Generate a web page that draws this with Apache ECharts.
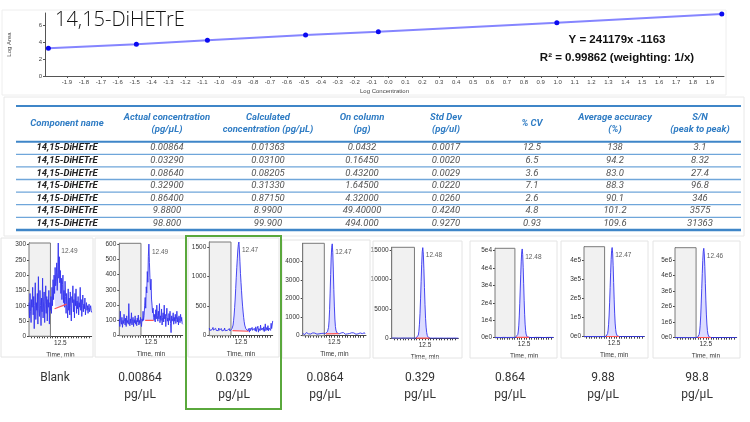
<!DOCTYPE html>
<html><head><meta charset="utf-8">
<script src="https://cdn.jsdelivr.net/npm/echarts@6/dist/echarts.min.js"></script>
<style>html,body{margin:0;padding:0;background:#fff}#c{width:750px;height:422px}</style>
</head><body><div id="c"></div>
<script>
// ---------- calibration curve ----------
const logConc = [-2.01, -1.49, -1.07, -0.49, -0.06, 0.995, 1.97];
const logArea = [3.30, 3.77, 4.25, 4.88, 5.27, 6.35, 7.38];
const xTickLabels = [-1.9,-1.8,-1.7,-1.6,-1.5,-1.4,-1.3,-1.2,-1.1,-1.0,-0.9,-0.8,-0.7,-0.6,-0.5,-0.4,-0.3,-0.2,-0.1,0.0,
  0.1,0.2,0.3,0.4,0.5,0.6,0.7,0.8,0.9,1.0,1.1,1.2,1.3,1.4,1.5,1.6,1.7,1.8,1.9];
const compoundTitle = '14,15-DiHETrE';
const equationText = 'Y = 241179x -1163';
const r2Text = 'R\u00B2 = 0.99862 (weighting: 1/x)';

// ---------- table ----------
const tableHeader1 = ['Component name','Actual concentration','Calculated','On column','Std Dev','% CV','Average accuracy','S/N'];
const tableHeader2 = ['','(pg/\u00B5L)','concentration (pg/\u00B5L)','(pg)','(pg/ul)','','(%)','(peak to peak)'];
const componentNames = ['14,15-DiHETrE','14,15-DiHETrE','14,15-DiHETrE','14,15-DiHETrE','14,15-DiHETrE','14,15-DiHETrE','14,15-DiHETrE'];
const actualConc = ['0.00864','0.03290','0.08640','0.32900','0.86400','9.8800','98.800'];
const calcConc = ['0.01363','0.03100','0.08205','0.31330','0.87150','8.9900','99.900'];
const onColumn = ['0.0432','0.16450','0.43200','1.64500','4.32000','49.40000','494.000'];
const stdDev = ['0.0017','0.0020','0.0029','0.0220','0.0260','0.4240','0.9270'];
const cvPct = ['12.5','6.5','3.6','7.1','2.6','4.8','0.93'];
const avgAccuracy = ['138','94.2','83.0','88.3','90.1','101.2','109.6'];
const signalToNoise = ['3.1','8.32','27.4','96.8','346','3575','31363'];

// ---------- chromatograms ----------
const times = [
12.200,12.205,12.210,12.215,12.220,12.225,12.230,12.235,12.240,12.245,
12.250,12.255,12.260,12.265,12.270,12.275,12.280,12.285,12.290,12.295,
12.300,12.305,12.310,12.315,12.320,12.325,12.330,12.335,12.340,12.345,
12.350,12.355,12.360,12.365,12.370,12.375,12.380,12.385,12.390,12.395,
12.400,12.405,12.410,12.415,12.420,12.425,12.430,12.435,12.440,12.445,
12.450,12.455,12.460,12.465,12.470,12.475,12.480,12.485,12.490,12.495,
12.500,12.505,12.510,12.515,12.520,12.525,12.530,12.535,12.540,12.545,
12.550,12.555,12.560,12.565,12.570,12.575,12.580,12.585,12.590,12.595,
12.600,12.605,12.610,12.615,12.620,12.625,12.630,12.635,12.640,12.645,
12.650,12.655,12.660,12.665,12.670,12.675,12.680,12.685,12.690,12.695,
12.700,12.705,12.710,12.715,12.720,12.725,12.730,12.735,12.740,12.745,
12.750,12.755,12.760,12.765,12.770,12.775,12.780,12.785,12.790,12.795,
12.800];
const traceBlank = [
110,60,140,80,45,120,95,160,70,130,25,100,175,55,110,85,140,40,195,90,65,150,100,35,125,80,190,60,115,145,45,105,165,75,130,50,120,95,150,40,110,85,
130,75,160,100,185,120,200,140,225,165,180,240,150,210,
305,
190,260,175,215,140,190,120,170,200,110,150,95,180,130,75,140,
100,60,155,85,125,70,145,95,50,130,110,165,80,120,60,140,100,155,75,115,90,130,70,110,95,160,85,120,65,100,135,80,105,90,125,70,95,110,85,100,75,95,105,80,90,100,85,78];
const trace00864 = [
110,60,160,90,75,120,55,100,80,140,95,70,115,60,130,85,100,75,210,90,65,110,80,150,70,95,120,60,105,85,130,75,100,65,115,90,135,70,100,80,120,90,
60,110,95,160,100,130,200,250,180,320,280,420,350,520,
600,
480,380,300,370,240,200,150,180,120,100,140,90,170,110,200,130,
95,160,110,210,85,130,100,175,70,120,150,90,200,110,140,60,125,180,95,115,70,145,100,160,80,20,130,95,110,150,75,120,95,140,80,105,160,90,120,70,130,100,85,140,95,120,80,75];
const trace0329 = [
130,90,110,80,120,100,70,140,95,85,110,75,125,90,100,60,115,85,130,95,70,105,90,120,80,100,65,110,95,130,85,100,75,115,90,105,70,95,120,80,100,90,
95,120,110,180,260,350,480,620,800,980,1150,1300,1450,1540,
1585,
1450,1250,1050,900,760,620,500,400,310,240,180,150,120,105,90,110,
80,120,95,60,130,85,110,70,140,90,100,65,125,95,80,150,70,110,90,160,60,120,100,85,180,95,75,130,110,90,150,70,120,200,85,110,140,95,170,80,130,100,160,90,210,120,180,250];
const trace0864 = [
120,80,150,100,60,130,90,170,110,70,140,100,80,160,120,90,60,130,100,150,80,110,70,140,95,120,160,85,110,60,130,100,150,90,75,120,140,100,80,130,110,90,
100,120,150,130,170,220,300,450,800,1400,2300,3300,4200,4780,
4960,
4500,3600,2500,1600,900,500,300,200,150,130,110,140,100,160,120,90,
150,110,130,90,170,120,100,140,80,160,110,130,100,150,90,180,120,100,140,70,160,110,130,90,150,120,100,170,80,140,110,130,100,160,90,120,150,100,130,180,110,90,140,120,160,100,130,150];
const trace329 = [
40,20,35,25,45,30,20,40,35,25,30,45,20,35,30,40,25,30,35,20,40,30,25,45,30,35,20,40,30,25,35,30,40,20,35,30,25,40,30,35,25,30,
35,40,50,70,120,250,550,1200,2400,4200,6700,9600,12500,14700,
15400,
14300,11800,8600,5700,3400,1900,1000,500,250,130,80,60,45,40,35,30,
35,25,30,40,20,35,30,25,45,30,35,20,40,30,25,35,30,40,20,35,30,25,40,30,35,25,30,40,20,35,30,45,25,30,35,20,40,30,25,35,30,40,25,35,30,20,40,30];
const trace864 = [
150,120,180,100,160,130,140,110,170,150,120,160,100,140,180,130,150,110,170,120,140,160,100,150,130,180,120,140,110,160,150,130,170,100,140,120,160,150,110,130,170,140,
160,200,280,450,900,1900,3800,7200,12500,19800,28000,36500,44000,49300,
51000,
47800,40500,31000,21500,13500,7800,4200,2100,1000,500,300,220,180,160,150,140,
130,160,120,150,170,110,140,160,130,150,120,180,140,110,160,150,130,170,120,140,160,100,150,130,170,140,120,160,150,110,140,180,130,150,120,160,140,110,170,150,130,160,120,140,150,130,160,140];
const trace988 = [
900,700,1100,600,1000,800,850,650,1050,900,700,1000,600,850,1100,800,900,650,1050,700,850,1000,600,900,800,1100,700,850,650,1000,900,800,1050,600,850,700,1000,900,650,800,1050,850,
1000,1300,2000,3800,8000,17000,34000,65000,113000,180000,256000,333000,402000,450000,
465000,
436000,370000,283000,196000,123000,71000,38000,19000,9000,4500,2600,1800,1300,1100,950,900,
800,950,700,900,1000,650,850,950,800,900,700,1100,850,650,950,900,800,1000,700,850,950,600,900,800,1000,850,700,950,900,650,850,1100,800,900,700,950,850,650,1000,900,800,950,700,850,900,800,950,850];
const trace988b = [
10000,8000,12000,7000,11000,9000,9500,7500,11500,10000,8000,11000,7000,9500,12000,9000,10000,7500,11500,8000,9500,11000,7000,10000,9000,12000,8000,9500,7500,11000,10000,9000,11500,7000,9500,8000,11000,10000,7500,9000,11500,9500,
11000,15000,25000,48000,100000,210000,420000,800000,1400000,2230000,3170000,4120000,4970000,5560000,
5750000,
5390000,4570000,3500000,2420000,1520000,880000,470000,235000,110000,55000,30000,20000,15000,12000,10500,10000,
9000,10500,8000,10000,11500,7500,9500,10500,9000,10000,8000,12000,9500,7500,10500,10000,9000,11000,8000,9500,10500,7000,10000,9000,11000,9500,8000,10500,10000,7500,9500,12000,9000,10000,8000,10500,9500,7500,11000,10000,9000,10500,8000,9500,10000,9000,10500,9500];
const traces = [traceBlank, trace00864, trace0329, trace0864, trace329, trace864, trace988, trace988b];
const peakLabels = ['12.49','12.49','12.47','12.47','12.48','12.48','12.47','12.46'];
const sampleNames = ['Blank','0.00864','0.0329','0.0864','0.329','0.864','9.88','98.8'];
const sampleUnit = 'pg/\u00B5L';
const peakStart = [12.445,12.445,12.42,12.42,12.42,12.42,12.42,12.42];
const peakEnd   = [12.56,12.525,12.57,12.54,12.54,12.55,12.55,12.55];
const baseStart = [90,100,85,100,30,150,900,10000];
const baseEnd   = [105,100,75,110,30,150,900,10000];
const grayEnd = 12.405;
const yMax = [305,605,1585,4990,15460,51380,469400,5790000];
const yStep = [50,100,500,1000,5000,10000,100000,1000000];
const yExp = [0,0,0,0,0,4,5,6];

// ---------- layout ----------
const panelGrid = [[29,243,62.7,93.3],[119.3,243.3,63.4,92.4],[209.3,242,63.4,93.7],[302.7,243.3,63.3,92.4],
  [391.7,247.3,66.6,91],[495,248.3,58.3,89.4],[584,246.7,60.3,90],[675,247.7,61.7,90]];
const panelCard = [[1,238,92,119],[95,238,91,119],[188,238,91,119],[282,240,88,118],[373,241,89,117],[470,241,87,117],[561,241,87,117],[653,241,87,117]];
const labelX = [55,140,234,325,420,510,603,697];
const colX = [67,167,268,362,446,532,615,700];
const rowTop = 141.7, rowH = 12.6;

const chart = echarts.init(document.getElementById('c'), null, {renderer:'canvas'});

const grids = [{left:45, top:13, width:679, height:63, containLabel:false, outerBoundsMode:'none'}];
const xAxes = [{type:'value', gridIndex:0, min:-2.03, max:1.983,
  axisLine:{onZero:false, lineStyle:{color:'#555',width:1}},
  axisTick:{customValues:xTickLabels, length:2, lineStyle:{color:'#555'}},
  axisLabel:{customValues:xTickLabels, formatter:v=>v.toFixed(1), fontSize:6, color:'#444', margin:3, fontFamily:'Liberation Sans'},
  splitLine:{show:false},
  name:'Log Concentration', nameLocation:'middle', nameGap:12, nameTextStyle:{fontSize:6, color:'#444', fontFamily:'Liberation Sans'}}];
const yAxes = [{type:'value', gridIndex:0, min:0, max:7.5, interval:2,
  axisLine:{show:true, onZero:false, lineStyle:{color:'#555',width:1}},
  axisTick:{show:true, length:2, lineStyle:{color:'#555'}},
  axisLabel:{fontSize:6, color:'#444', margin:3, fontFamily:'Liberation Sans', showMaxLabel:false,
    formatter: v => (Math.abs(v - 7.5) < 1e-6 ? '' : String(v))},
  splitLine:{show:false},
  name:'Log Area', nameLocation:'middle', nameGap:33, nameRotate:90, nameTextStyle:{fontSize:6, color:'#444', fontFamily:'Liberation Sans'}}];
const series = [{type:'line', xAxisIndex:0, yAxisIndex:0, data:logConc.map((x,i)=>[x,logArea[i]]),
  symbol:'circle', symbolSize:5, itemStyle:{color:'#0a0af0'}, lineStyle:{color:'#8585ff', width:2}, z:3}];

traces.forEach((vals, i) => {
  const k = i + 1;
  const g = panelGrid[i];
  grids.push({left:g[0], top:g[1], width:g[2], height:g[3], containLabel:false, outerBoundsMode:'none'});
  xAxes.push({type:'value', gridIndex:k, min:12.2, max:12.8, interval:0.025,
    axisLine:{onZero:false, lineStyle:{color:'#444',width:1}},
    axisTick:{length:2, lineStyle:{color:'#444'}},
    axisLabel:{formatter:v=>Math.abs(v-12.5)<0.001?'12.5':'', fontSize:6.5, color:'#333', margin:3, fontFamily:'Liberation Sans', hideOverlap:false, showMinLabel:false, showMaxLabel:false},
    splitLine:{show:false},
    name:'Time, min', nameLocation:'middle', nameGap:15, nameTextStyle:{fontSize:6.5, color:'#333', fontFamily:'Liberation Sans'}});
  const e = yExp[i];
  const top = yMax[i];
  yAxes.push({type:'value', gridIndex:k, min:0, max:top, interval:yStep[i],
    axisLine:{show:true, onZero:false, lineStyle:{color:'#444',width:1}},
    axisTick:{show:true, length:2, lineStyle:{color:'#444'}},
    axisLabel:{fontSize:6.5, color:'#333', margin:3, fontFamily:'Liberation Sans', showMaxLabel:false,
      formatter: v => (v === top ? '' : (e ? (v===0 ? '0e0' : Math.round(v/Math.pow(10,e)) + 'e' + e) : String(v)))},
    splitLine:{show:false}});
  const pts = vals.map((v,j)=>[times[j], v]);
  series.push({type:'line', xAxisIndex:k, yAxisIndex:k, data:pts, symbol:'none',
    lineStyle:{color:'#3333ee', width:0.9}, z:4,
    markArea:{silent:true, itemStyle:{color:'#f1f1f1', borderColor:'#7a7a7a', borderWidth:1},
      data:[[{xAxis:12.2},{xAxis:grayEnd}]]}});
  const peakPts = pts.filter(p => p[0] >= peakStart[i]-1e-9 && p[0] <= peakEnd[i]+1e-9);
  series.push({type:'line', xAxisIndex:k, yAxisIndex:k, data:peakPts, symbol:'none',
    lineStyle:{width:0}, areaStyle:{color:'rgba(110,110,255,0.35)', origin:(baseStart[i]+baseEnd[i])/2}, z:3});
  series.push({type:'line', xAxisIndex:k, yAxisIndex:k, data:[[peakStart[i],baseStart[i]],[peakEnd[i],baseEnd[i]]],
    symbol:'none', lineStyle:{color:'#ff5555', width:1.2}, z:5});
  let apex = 0; vals.forEach((v,j)=>{ if (v > vals[apex]) apex = j; });
  series.push({type:'scatter', xAxisIndex:k, yAxisIndex:k, data:[[times[apex], vals[apex]]], symbolSize:0.1,
    itemStyle:{color:'rgba(0,0,0,0)'},
    label:{show:true, formatter:peakLabels[i], position:'right', distance:3, offset:[0,8], fontSize:6.5, color:'#333', fontFamily:'Liberation Sans'}, z:6});
});

// ---------- graphic: titles, table, labels ----------
const G = [];
function txt(x, y, t, o) {
  o = o || {};
  G.push({type:'text', x:x, y:y, z:10, style:Object.assign({text:t, fill:'#333', fontSize:9, fontFamily:'Roboto',
    align:'center', textAlign:'center', verticalAlign:'middle', textVerticalAlign:'middle'}, o)});
}
function ln(x1, y1, x2, y2, c, w) {
  G.push({type:'line', z:9, shape:{x1:x1,y1:y1,x2:x2,y2:y2}, style:{stroke:c, lineWidth:w}});
}
function box(x, y, w, h, c, lw) {
  G.push({type:'rect', z:1, shape:{x:x,y:y,width:w,height:h}, style:{fill:'none', stroke:c, lineWidth:lw}});
}
// cards
box(2, 10, 724, 85, '#eeeeee', 1);
box(4, 97, 740, 139, '#e8e8e8', 1);
panelCard.forEach(c => box(c[0], c[1], c[2], c[3], '#e4e4e4', 1));

txt(55, 20, compoundTitle, {fontSize:20, fontFamily:'Open Sans', fontWeight:'lighter', fill:'#111', align:'left', textAlign:'left'});
txt(617, 39.5, equationText, {fontSize:11.5, fontWeight:'bold', fontFamily:'Liberation Sans', fill:'#111'});
txt(617, 57.5, r2Text, {fontSize:11.5, fontWeight:'bold', fontFamily:'Liberation Sans', fill:'#111'});

// table lines
const tL = 16, tR = 741;
ln(tL, 106, tR, 106, '#3f86c8', 2);
ln(tL, rowTop, tR, rowTop, '#3f86c8', 2);
for (let r = 1; r < 7; r++) ln(tL, rowTop + r*rowH, tR, rowTop + r*rowH, '#6fa6da', 1.3);
ln(tL, rowTop + 7*rowH, tR, rowTop + 7*rowH, '#3f86c8', 2.5);
const hdr = {fontSize:9.5, fontWeight:'bold', fontStyle:'italic', fill:'#2f7cc4'};
tableHeader1.forEach((h, c) => {
  if (tableHeader2[c]) { txt(colX[c], 118, h, hdr); txt(colX[c], 130, tableHeader2[c], hdr); }
  else txt(colX[c], 124, h, hdr);
});
const cols = [componentNames, actualConc, calcConc, onColumn, stdDev, cvPct, avgAccuracy, signalToNoise];
cols.forEach((col, c) => col.forEach((v, r) => {
  const y = rowTop + rowH*(r + 0.5);
  if (c === 0) txt(colX[c], y, v, {fontSize:9.5, fontWeight:'bold', fontStyle:'italic', fill:'#222'});
  else txt(colX[c], y, v, {fontSize:9.5, fontStyle:'italic', fill:'#555'});
}));

// sample labels
sampleNames.forEach((s, i) => {
  txt(labelX[i], 378, s, {fontSize:12, fontFamily:'Liberation Sans Narrow, Roboto', fill:'#333'});
  if (i > 0) txt(labelX[i], 394.5, sampleUnit, {fontSize:12, fontFamily:'Liberation Sans Narrow, Roboto', fill:'#333'});
});
// highlight box
box(186, 236, 95, 173, '#5aa83c', 2);

chart.setOption({
  animation:false,
  backgroundColor:'#ffffff',
  grid:grids, xAxis:xAxes, yAxis:yAxes, series:series,
  graphic:{elements:G}
});
</script></body></html>
